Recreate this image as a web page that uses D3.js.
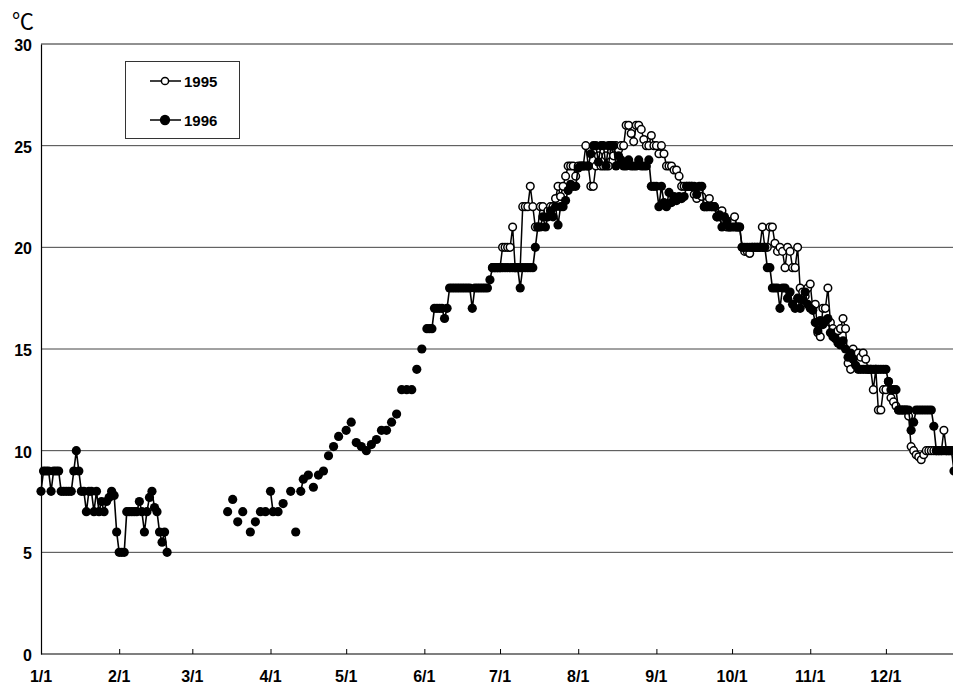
<!DOCTYPE html>
<html>
<head>
<meta charset="utf-8">
<script src="https://cdn.jsdelivr.net/npm/d3@7"></script>
<style>
  body { margin: 0; background: #fff; }
  svg text { font-family: "Liberation Sans", Arial, sans-serif; font-weight: bold; fill: #000; }
</style>
</head>
<body>
<svg id="chart" width="953" height="684"></svg>
<script>
// ---------- DATA ----------
const monthTickDays = [0, 31, 60, 91, 121, 152, 182, 213, 244, 274, 305, 335];
const monthTickLabels = ["1/1", "2/1", "3/1", "4/1", "5/1", "6/1", "7/1", "8/1", "9/1", "10/1", "11/1", "12/1"];
const yTickValues = [0, 5, 10, 15, 20, 25, 30];
const seriesNames = ["1995", "1996"];

// 1996: daily run Jan 1 - Feb 20
const janFeb1996Start = 0;
const janFeb1996 = [8, 9, 9, 9, 8, 9, 9, 9, 8, 8, 8, 8, 8, 9, 10, 9, 8, 8, 7, 8,
  8, 7, 8, 7, 7.5, 7, 7.5, 7.7, 8, 7.8, 6, 5, 5, 5, 7, 7, 7, 7, 7, 7.5,
  7, 6, 7, 7.7, 8, 7.2, 7, 6, 5.5, 6, 5];

// 1996: sparse spring observations
const spring1996Days = [74, 76, 78, 80, 83, 85, 87, 89, 91, 92, 94, 96, 99, 101, 103, 104, 106, 108, 110, 112,
  114, 116, 118, 121, 123, 125, 127, 129, 131, 133, 135, 137, 139, 141, 143, 145, 147, 149, 151];
const spring1996 = [7, 7.6, 6.5, 7, 6, 6.5, 7, 7, 8, 7, 7, 7.4, 8, 6, 8, 8.6, 8.8, 8.2, 8.8, 9,
  9.75, 10.2, 10.7, 11, 11.4, 10.4, 10.2, 10, 10.3, 10.55, 11, 11, 11.4, 11.8, 13, 13, 13, 14, 15];

// 1996: daily run from Jun 2
const summer1996Start = 153;
const summer1996 = [
  16, 16, 16, 17, 17, 17, 17, 16.5, 17, 18,          // 153-162
  18, 18, 18, 18, 18, 18, 18, 18, 17, 18,            // 163-172
  18, 18, 18, 18, 18, 18.4, 19, 19, 19, 19,          // 173-182
  19, 19, 19, 19, 19, 19, 19, 18, 19, 19,            // 183-192
  19, 19, 19, 20, 21, 21, 21.5, 21, 21.5, 21.8,      // 193-202
  21.5, 22, 21.1, 22, 22, 22.3, 22.8, 23.1, 23, 23,  // 203-212
  23.9, 24, 24, 24, 24, 24.6, 25, 25, 24.2, 25,      // 213-222
  25, 24, 25, 25, 25, 24, 24.5, 24.3, 24, 24,        // 223-232
  24.3, 24, 24, 24, 24.3, 24, 24, 24, 24.3, 23,      // 233-242
  23, 23, 22, 23, 22.2, 22, 22.7, 22.2, 22.5, 22.3,  // 243-252
  22.5, 22.4, 22.5, 23, 23, 23, 23, 22.6, 23, 23,    // 253-262
  22, 22, 22, 22, 22, 21.5, 21.6, 21, 21.5, 21.3,    // 263-272
  21, 21, 21, 21, 21, 20, 20, 20, 20, 20,            // 273-282
  20, 20, 20, 20, 20, 19, 19, 18, 18, 18,            // 283-292
  17, 18, 18, 17.5, 17.8, 17.2, 17, 17.5, 17, 17.4,  // 293-302
  17.8, 17.2, 17, 16.9, 16.3, 15.9, 16.4, 16.2, 16.4, 16.5, // 303-312
  15.8, 15.6, 15.5, 15.3, 15.2, 15.4, 15, 14.6, 14.8, 14.5, // 313-322
  14.2, 14, 14, 14, 14, 14, 14, 14, 14, 14,          // 323-332
  14, 14, 14, 13.4, 13, 13, 13, 12, 12, 12,          // 333-342
  12, 12, 11, 11.4, 12, 12, 12, 12, 12, 12,          // 343-352
  12, 11.2, 10, 10, 10, 10, 10, 10, 10, 9            // 353-362
];

// 1995: daily run from late June
const summer1995Start = 179;
const summer1995 = [
  19, 19, 19, 19, 20, 20, 20, 20, 21, 19,            // 179-188
  19, 19, 22, 22, 22, 23, 22, 21, 21, 22,            // 189-198
  22, 21.5, 21.8, 22, 22, 22.4, 23, 22.5, 23, 23.5,  // 199-208
  24, 24, 24, 23.5, 24, 24, 24, 25, 24, 23,          // 209-218
  23, 24, 24.5, 24, 24, 24.5, 24, 25, 24.5, 25,      // 219-228
  24.8, 25, 25, 26, 26, 25.6, 25.2, 26, 26, 25.8,    // 229-238
  25.3, 25, 25, 25.5, 25, 25, 24.6, 25, 24.6, 24,    // 239-248
  24, 24, 23.8, 23.8, 23.5, 23, 23, 23, 23, 23,      // 249-258
  22.6, 22.4, 22.8, 22.5, 22, 22, 22.4, 22, 22, 21.5, // 259-268
  21.5, 21.8, 21.3, 21, 21, 21.3, 21.5, 21, 21, 20,  // 269-278
  19.8, 19.8, 19.7, 20, 20, 20, 20, 21, 20, 20,      // 279-288
  21, 21, 20.2, 19.8, 20, 19.8, 19, 20, 19.8, 19,    // 289-298
  19, 20, 18, 17.8, 17.6, 18, 18.2, 17, 17.2, 15.8,  // 299-308
  15.6, 17, 17, 18, 16.3, 16, 15.8, 15.9, 16, 16.5,  // 309-318
  16, 14.3, 14, 15, 14.7, 14.8, 14.6, 14.8, 14.5, 14, // 319-328
  14, 13, 14, 12, 12, 13, 13, 13.4, 12.6, 12.4,      // 329-338
  12.2, 12, 12, 12, 12, 11.7, 10.2, 10, 9.8, 9.7,    // 339-348
  9.55, 9.8, 10, 10, 10, 10, 10, 10, 10, 11,         // 349-358
  10, 10, 10                                         // 359-361
];

// ---------- BUILD ----------
function runPoints(start, vals) { return vals.map((v, i) => ({ d: start + i, v })); }
const pts1996 = [
  ...runPoints(janFeb1996Start, janFeb1996),
  ...spring1996Days.map((d, i) => ({ d, v: spring1996[i] })),
  ...runPoints(summer1996Start, summer1996)
];
const pts1995 = runPoints(summer1995Start, summer1995);

function segments(pts) {
  const segs = []; let cur = [];
  pts.forEach((p, i) => {
    if (i > 0 && p.d - pts[i - 1].d > 1) { segs.push(cur); cur = []; }
    cur.push(p);
  });
  if (cur.length) segs.push(cur);
  return segs.filter(s => s.length > 1);
}

const svg = d3.select("#chart");
const x = d3.scaleLinear().domain([0, 362]).range([41, 954]);
const y = d3.scaleLinear().domain([0, 30]).range([654, 44]);

// gridlines
svg.append("g").selectAll("line").data(yTickValues.filter(v => v > 0)).join("line")
  .attr("x1", 41).attr("x2", 953)
  .attr("y1", d => y(d)).attr("y2", d => y(d))
  .attr("stroke", d => d === 30 ? "#222" : "#444").attr("stroke-width", 1);

// y axis (labels only + line)
const yAxis = d3.axisLeft(y).tickValues(yTickValues).tickSize(0).tickPadding(9);
const gy = svg.append("g").attr("transform", "translate(41,0)").call(yAxis);
gy.select(".domain").attr("stroke", "#000").attr("stroke-width", 1.2);
gy.selectAll("text").attr("font-size", 16).attr("dy", "0.4em")
  .style("font-family", "'Liberation Sans', Arial, sans-serif").style("font-weight", "bold");

// x axis with inward ticks
const xAxis = d3.axisTop(x).tickValues(monthTickDays).tickSize(5).tickFormat("");
const gx = svg.append("g").attr("transform", "translate(0,654)").call(xAxis);
gx.select(".domain").remove();
gx.selectAll(".tick line").attr("stroke", "#000");
svg.append("line").attr("x1", 41).attr("x2", 953).attr("y1", 654).attr("y2", 654)
  .attr("stroke", "#000").attr("stroke-width", 1.2);
svg.append("g").selectAll("text").data(monthTickDays).join("text")
  .attr("x", d => x(d)).attr("y", 682)
  .attr("text-anchor", "middle").attr("font-size", 16)
  .text((d, i) => monthTickLabels[i]);

// unit label
svg.append("text").attr("x", 12).attr("y", 29).attr("font-size", 22)
  .style("font-family", "'Noto Sans CJK JP', sans-serif").style("font-weight", "normal")
  .text("℃");

const line = d3.line().x(p => x(p.d)).y(p => y(p.v));

// 1995 (open circles)
const g95 = svg.append("g");
g95.selectAll("path").data(segments(pts1995)).join("path")
  .attr("d", line).attr("fill", "none").attr("stroke", "#000").attr("stroke-width", 1.5);
g95.selectAll("circle").data(pts1995).join("circle")
  .attr("cx", p => x(p.d)).attr("cy", p => y(p.v)).attr("r", 3.8)
  .attr("fill", "#fff").attr("stroke", "#000").attr("stroke-width", 1.5);

// 1996 (filled)
const g96 = svg.append("g");
g96.selectAll("path").data(segments(pts1996)).join("path")
  .attr("d", line).attr("fill", "none").attr("stroke", "#000").attr("stroke-width", 1.6);
g96.selectAll("circle").data(pts1996).join("circle")
  .attr("cx", p => x(p.d)).attr("cy", p => y(p.v)).attr("r", 4.6)
  .attr("fill", "#000");

// legend
const lg = svg.append("g");
lg.append("rect").attr("x", 125.5).attr("y", 61.5).attr("width", 114).attr("height", 77)
  .attr("fill", "#fff").attr("stroke", "#333").attr("stroke-width", 1);
seriesNames.forEach((name, i) => {
  const ly = 81 + i * 39;
  lg.append("line").attr("x1", 150).attr("x2", 181).attr("y1", ly).attr("y2", ly)
    .attr("stroke", "#000").attr("stroke-width", 1.5);
  lg.append("circle").attr("cx", 165).attr("cy", ly).attr("r", i === 0 ? 3.6 : 4.4)
    .attr("fill", i === 0 ? "#fff" : "#000").attr("stroke", "#000").attr("stroke-width", 1.5);
  lg.append("text").attr("x", 184).attr("y", ly + 5.5).attr("font-size", 15).text(name);
});
</script>
</body>
</html>
